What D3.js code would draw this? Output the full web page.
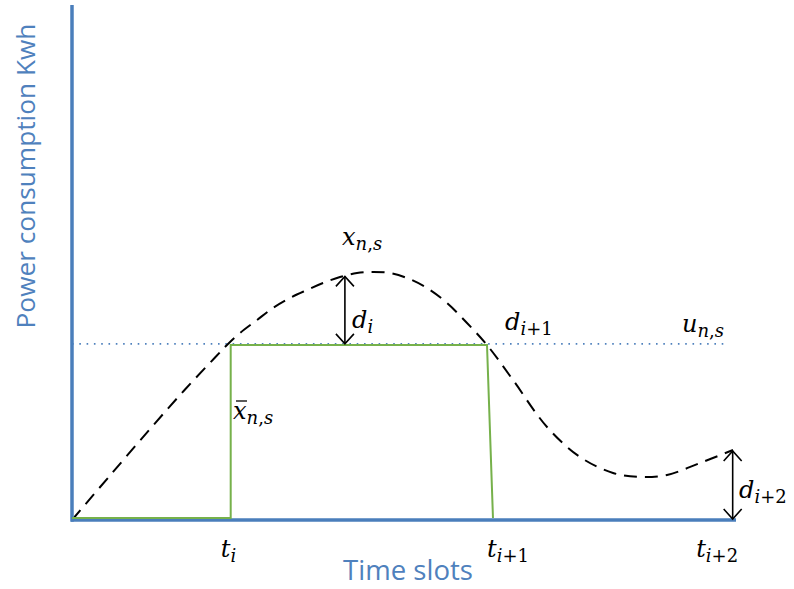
<!DOCTYPE html>
<html><head><meta charset="utf-8">
<script src="https://cdn.jsdelivr.net/npm/d3@7"></script>
<style>body{margin:0;background:#fff}</style>
</head><body>
<svg id="c" width="794" height="589"></svg>
<script>
// ---- data (x: 0..100 time units, y: 0..100 power units) ----
const curveX = [0, 5.72, 11.75, 17.02, 21.54, 23.34, 25.30, 27.86, 30.27, 32.83, 35.39, 37.80, 40.36, 42.92, 45.33, 47.89, 50.45, 53.46, 56.48, 59.49, 62.50, 66.42, 71.54, 76.51, 81.48, 85.54, 89.61, 94.58, 99.55];
const curveY = [0, 8.64, 17.67, 25.34, 31.55, 33.98, 36.31, 38.83, 41.17, 43.11, 44.66, 46.02, 47.18, 47.96, 48.16, 47.96, 46.99, 45.05, 42.14, 38.25, 33.98, 27.18, 18.06, 12.23, 9.13, 8.35, 8.74, 11.07, 13.59];
const limitLevel = 34.2;
const limitEnd = 98.6;
const scheduleX = [0, 23.9, 23.9, 62.5, 63.4];
const scheduleY = [0.4, 0.4, 34.0, 34.0, 0.4];
const tickValues = [22.4, 62.5, 94.0];
const tickMain = ["t", "t", "t"];
const tickSubs = [["i", ""], ["i", "+1"], ["i", "+2"]];
const gapArrows = [{x: 41.1, y0: 34.0, y1: 47.5}, {x: 99.5, y0: 0, y1: 13.6}];

const svg = d3.select("#c");
const x = d3.scaleLinear().domain([0, 100]).range([72, 736]);
const y = d3.scaleLinear().domain([0, 100]).range([520, 5]);
const axisColor = "#4a7ebb";
const mathFont = "'DejaVu Serif', serif";
const MAIN = 24, SUB = 18;

// dotted limit line
svg.append("line")
  .attr("x1", x(0)).attr("x2", x(limitEnd))
  .attr("y1", y(limitLevel)).attr("y2", y(limitLevel))
  .attr("stroke", "#4f81bd").attr("stroke-width", 1.6)
  .attr("stroke-dasharray", "1.6,5.7");

// dashed curve
const pts = curveX.map((d, i) => [d, curveY[i]]);
svg.append("path")
  .attr("d", d3.line().x(d => x(d[0])).y(d => y(d[1])).curve(d3.curveCatmullRom.alpha(0.5))(pts))
  .attr("fill", "none").attr("stroke", "#000").attr("stroke-width", 2)
  .attr("stroke-dasharray", "13,8");

// axes
const xAxis = d3.axisBottom(x).tickValues([]).tickSize(0).tickSizeOuter(0);
const gx = svg.append("g").attr("transform", `translate(0,${y(0)})`).call(xAxis);
gx.select(".domain").attr("stroke", axisColor).attr("stroke-width", 3.5).attr("d", `M${x(0)-1},0H${x(100)}`);
const yAxis = d3.axisLeft(y).tickValues([]).tickSize(0).tickSizeOuter(0);
const gy = svg.append("g").attr("transform", `translate(${x(0)},0)`).call(yAxis);
gy.select(".domain").attr("stroke", axisColor).attr("stroke-width", 3.5).attr("d", `M0,${y(100)}V${y(0)+1.7}`);

// green schedule line (on top of axis)
const sched = scheduleX.map((d, i) => [d, scheduleY[i]]);
svg.append("path")
  .attr("d", d3.line().x(d => x(d[0])).y(d => y(d[1]))(sched))
  .attr("fill", "none").attr("stroke", "#76b14b").attr("stroke-width", 2);

// double arrows
function arrowHead(px, py, dir) {
  return `M${px-9},${py - dir*10}L${px},${py}L${px+9},${py - dir*10}`;
}
gapArrows.forEach(a => {
  const px = x(a.x), yTop = y(a.y1) + 1, yBot = y(a.y0) - 1;
  svg.append("line").attr("x1", px).attr("x2", px).attr("y1", yTop).attr("y2", yBot)
    .attr("stroke", "#000").attr("stroke-width", 1.6);
  svg.append("path").attr("d", arrowHead(px, yTop, -1) + arrowHead(px, yBot, 1))
    .attr("fill", "none").attr("stroke", "#000").attr("stroke-width", 1.6);
});

// math labels: main italic letter, subscript (italic part, upright part)
function mathLabel(px, py, main, subIt, subUp) {
  const t = svg.append("text").attr("x", px).attr("y", py)
    .attr("font-family", mathFont).attr("fill", "#000");
  t.append("tspan").attr("font-size", MAIN).attr("font-style", "italic").text(main);
  t.append("tspan").attr("font-size", SUB).attr("font-style", "italic").attr("dy", 5).text(subIt);
  if (subUp) t.append("tspan").attr("font-size", SUB).attr("font-style", "normal").text(subUp);
  return t;
}
function nsLabel(px, py, main, bar) {
  const t = svg.append("text").attr("x", px).attr("y", py)
    .attr("font-family", mathFont).attr("fill", "#000");
  t.append("tspan").attr("font-size", MAIN).attr("font-style", "italic").text(main);
  t.append("tspan").attr("font-size", SUB).attr("font-style", "italic").attr("dy", 5).text("n");
  t.append("tspan").attr("font-size", SUB).attr("font-style", "normal").text(",");
  t.append("tspan").attr("font-size", SUB).attr("font-style", "italic").text("s");
  if (bar) {
    svg.append("line").attr("x1", px + 3).attr("x2", px + 14)
      .attr("y1", py - 18).attr("y2", py - 18).attr("stroke", "#000").attr("stroke-width", 1.3);
  }
}
nsLabel(342, 245, "x");
mathLabel(352, 328, "d", "i", "");
mathLabel(505, 330, "d", "i", "+1");
nsLabel(682, 332, "u");
nsLabel(233, 419, "x", true);
mathLabel(739, 498, "d", "i", "+2");

// tick labels
tickValues.forEach((v, i) => {
  mathLabel(x(v), 557, tickMain[i], tickSubs[i][0], tickSubs[i][1]);
});

// axis titles
const labelFont = "'Open Sans', sans-serif";
const xt = svg.append("text").attr("x", 408).attr("y", 580).attr("text-anchor", "middle")
  .attr("font-family", labelFont).attr("font-size", 22).attr("fill", "#4f81bd").text("Time slots");
const xtw = xt.node().getComputedTextLength();
xt.attr("font-size", 22 * 130 / xtw);
const yt = svg.append("text").attr("transform", "translate(35,176) rotate(-90)").attr("text-anchor", "middle")
  .attr("font-family", labelFont).attr("font-size", 22).attr("fill", "#4f81bd").text("Power consumption Kwh");
const ytw = yt.node().getComputedTextLength();
yt.attr("font-size", 22 * 305 / ytw);
</script>
</body></html>
